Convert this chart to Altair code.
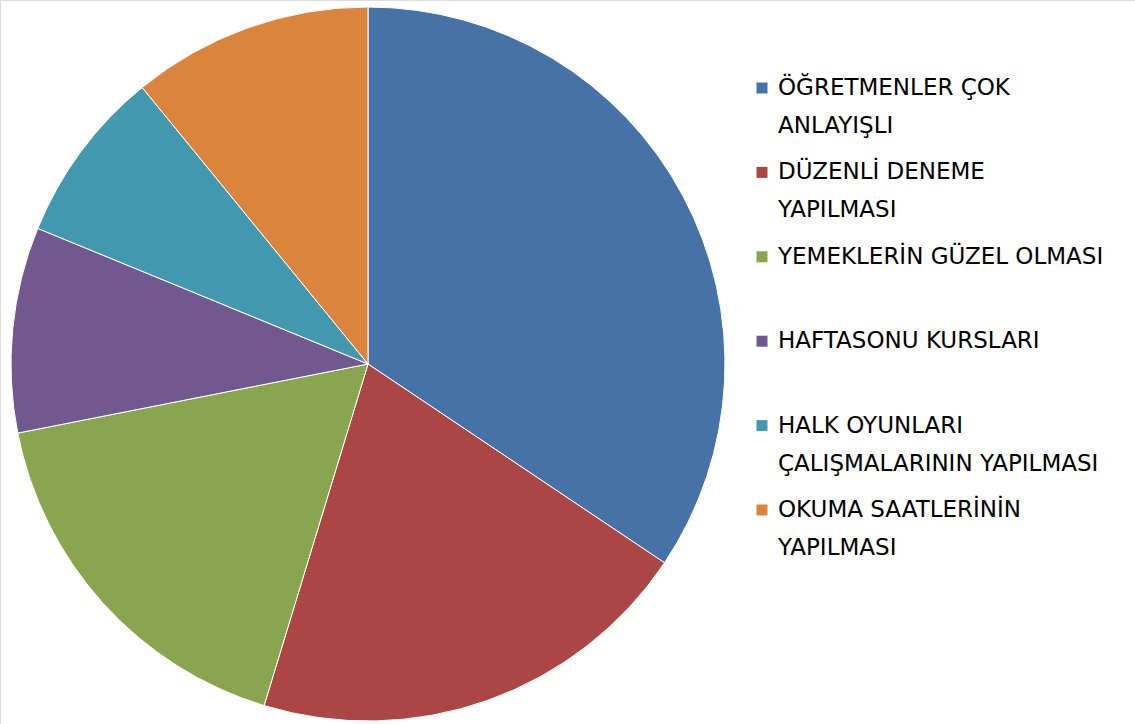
import altair as alt
import pandas as pd

categories = [
    "ÖĞRETMENLER ÇOK|ANLAYIŞLI",
    "DÜZENLİ DENEME|YAPILMASI",
    "YEMEKLERİN GÜZEL OLMASI|",
    "HAFTASONU KURSLARI|",
    "HALK OYUNLARI|ÇALIŞMALARININ YAPILMASI",
    "OKUMA SAATLERİNİN|YAPILMASI",
]
values = [34.4, 20.3, 17.2, 9.3, 7.9, 10.9]
colors = ["#4572A7", "#AA4643", "#89A54E", "#71588F", "#4198AF", "#DB843D"]

names = [c.replace("|", " ").strip() for c in categories]
df = pd.DataFrame({
    "name": names,
    "value": values,
    "order": list(range(len(values))),
    "line1": [c.split("|")[0] for c in categories],
    "line2": [c.split("|")[1] for c in categories],
})

color = alt.Color("name:N", scale=alt.Scale(domain=names, range=colors), legend=None)

pie = alt.Chart(df).mark_arc(outerRadius=357, stroke="white", strokeWidth=1).encode(
    theta=alt.Theta("value:Q", stack=True),
    order=alt.Order("order:Q"),
    color=color,
    x=alt.value(368),
    y=alt.value(364),
)

ypos = alt.Y("order:Q", scale=alt.Scale(domain=[0, 5], range=[88, 510]), axis=None)

sq = alt.Chart(df).mark_square(size=121, opacity=1).encode(
    x=alt.value(762), y=ypos, color=color
)
common = dict(align="left", baseline="middle", fontSize=23, font="DejaVu Sans", color="#000000")
t1 = alt.Chart(df).mark_text(**common).encode(
    x=alt.value(778), y=ypos, text="line1:N"
)
t2 = alt.Chart(df).mark_text(dy=38, **common).encode(
    x=alt.value(778), y=ypos, text="line2:N"
)

chart = alt.layer(pie, sq, t1, t2).properties(
    width=1135, height=724, autosize=alt.AutoSizeParams(type="none"), padding=0
).configure_view(stroke=None).configure(background="white")

chart.save("out.html", embed_options={"renderer": "svg", "actions": False})
